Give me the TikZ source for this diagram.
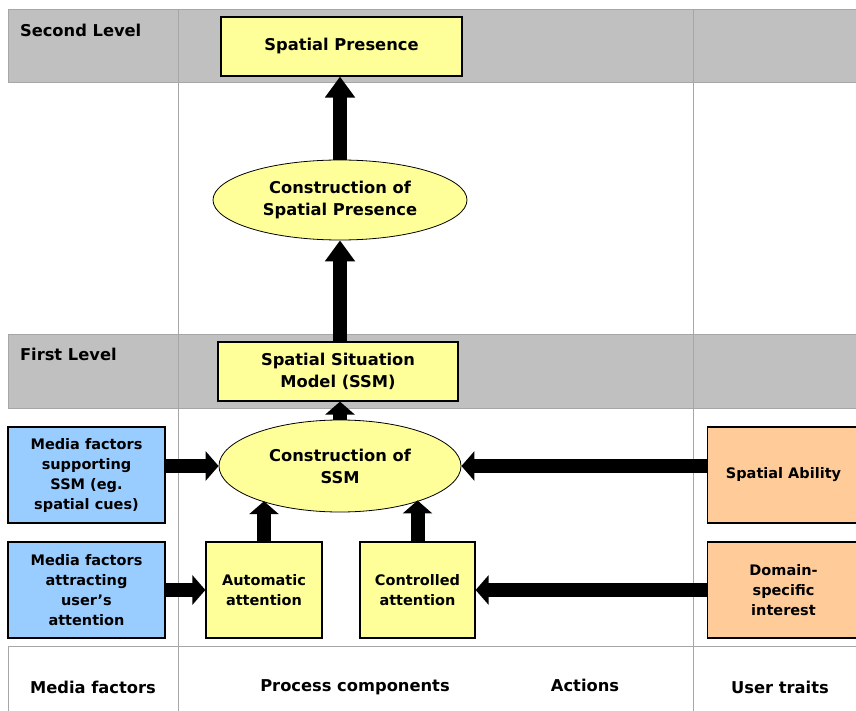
\documentclass[tikz,border=0pt]{standalone}
\usepackage{fontspec}
\setmainfont{DejaVu Sans}
\usetikzlibrary{arrows.meta,shapes.geometric}
\definecolor{bandgray}{HTML}{C0C0C0}
\definecolor{linegray}{HTML}{A6A6A6}
\definecolor{boxyellow}{HTML}{FFFF99}
\definecolor{boxblue}{HTML}{99CCFF}
\definecolor{boxorange}{HTML}{FFCC99}

\begin{document}
\begin{tikzpicture}[x=1pt,y=-1pt,
  font=\fontsize{14.5}{20}\selectfont\bfseries,
  bigtext/.style={font=\fontsize{16.3}{22}\selectfont\bfseries},
  box/.style={draw=black,line width=1.2pt,align=center,inner sep=0pt},
  procbox/.style={box,fill=boxyellow},
  mediabox/.style={box,fill=boxblue,minimum width=157pt,minimum height=96pt},
  traitbox/.style={box,fill=boxorange,minimum width=152pt,minimum height=96pt},
  oval/.style={ellipse,draw=black,line width=0.8pt,fill=boxyellow,align=center,inner sep=0pt,bigtext},
  flow/.style={line width=14pt,-{Triangle[width=29pt,length=13pt]}},
  longflow/.style={line width=14pt,-{Triangle[width=29pt,length=21pt]}},
  grid/.style={draw=linegray,line width=1pt}]
  \useasboundingbox (0,0) rectangle (856,711);
  %%%%% table %%%%%
  \draw[grid,fill=bandgray] (8,10) rectangle (862,83);
  \draw[grid,fill=bandgray] (8,334) rectangle (862,408);
  \draw[grid] (178,10) -- (178,711);
  \draw[grid] (693,10) -- (693,711);
  \draw[grid] (8,711) -- (8,646) -- (862,646);

  \node[bigtext,anchor=west] (lvltwo) at (16.5,30) {Second Level};
  \node[bigtext,anchor=west] (lvlone) at (16.5,354) {First Level};

  \node[bigtext] (colmedia) at (93,687) {Media factors};
  \node[bigtext] (colproc) at (355,687) {Process components};
  \node[bigtext] (colact) at (585,685) {Actions};
  \node[bigtext] (coluser) at (780,687) {User traits};

  %%%%% second level %%%%%
  \node[procbox,bigtext,minimum width=241pt,minimum height=59pt] (sp) at (341.5,46.5) {Spatial Presence};
  \node[oval,minimum width=254pt,minimum height=80pt] (csp) at (340,200) {Construction of\\Spatial Presence};

  %%%%% first level %%%%%
  \node[procbox,bigtext,minimum width=240pt,minimum height=59pt] (ssm) at (338,371.5) {Spatial Situation\\Model (SSM)};
  \node[oval,minimum width=242pt,minimum height=92pt] (ssmc) at (340,466) {Construction of\\SSM};

  \node[mediabox] (mfs) at (86.5,475) {Media factors\\supporting\\SSM (eg.\\spatial cues)};
  \node[mediabox] (mfa) at (86.5,590) {Media factors\\attracting\\user’s\\attention};

  \node[procbox,minimum width=116pt,minimum height=96pt] (auto) at (264,590) {Automatic\\attention};
  \node[procbox,minimum width=115pt,minimum height=96pt] (ctrl) at (417.5,590) {Controlled\\attention};

  \node[traitbox] (abil) at (783.5,475) {Spatial Ability};
  \node[traitbox] (dom) at (783.5,590) {Domain-\\specific\\interest};

  %%%%% arrows %%%%%
  \draw[longflow] (csp.north) -- (csp.north |- sp.south);
  \draw[longflow] (ssmc.north |- ssm.north) -- (csp.south);
  \draw[flow] (ssmc.north) -- (ssmc.north |- ssm.south);
  \draw[flow] (mfs.east |- ssmc) -- (ssmc.west);
  \draw[flow] (abil.west |- ssmc) -- (ssmc.east);
  \draw[flow] (mfa.east) -- (auto.west);
  \draw[flow] (dom.west) -- (ctrl.east);
  \draw[flow] (auto.north) -- (auto.north |- ssmc.204);
  \draw[flow] (ctrl.north) -- (ctrl.north |- ssmc.337);
\end{tikzpicture}
\end{document}
